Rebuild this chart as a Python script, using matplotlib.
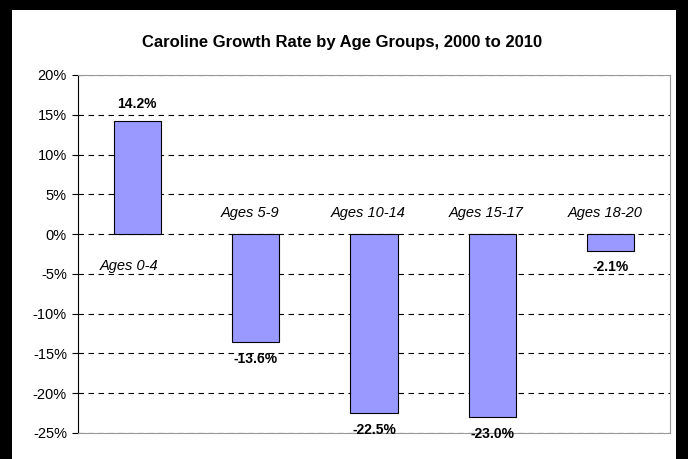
import matplotlib.pyplot as plt
from matplotlib.patches import Rectangle
from matplotlib.ticker import FuncFormatter

plt.rcParams['font.family'] = ['Liberation Sans', 'DejaVu Sans']

# Data
groups = ["Ages 0-4", "Ages 5-9", "Ages 10-14", "Ages 15-17", "Ages 18-20"]
growth = [14.2, -13.6, -22.5, -23.0, -2.1]

fig = plt.figure(figsize=(6.88, 4.59), dpi=100)
fig.patch.set_facecolor('black')
# white inner panel (black frame around it)
fig.patches.append(Rectangle((12/688, 0), 664/688, 449/459, transform=fig.transFigure,
                             facecolor='white', edgecolor='none', zorder=-10))

ax = fig.add_axes([78/688, 1 - 433/459, 592/688, 358/459])
ax.set_facecolor('white')

x = range(len(groups))
ax.bar(x, growth, width=0.4, color='#9999FF', edgecolor='black', linewidth=0.8, zorder=3)

ax.set_xlim(-0.5, len(groups) - 0.5)
ax.set_ylim(-25, 20)
ax.set_yticks(range(-25, 21, 5))
ax.yaxis.set_major_formatter(FuncFormatter(lambda v, p: f"{v:.0f}%"))
ax.set_xticks([])
ax.tick_params(axis='y', labelsize=10.5, length=4, pad=4, color='black')

ax.grid(axis='y', linestyle=(0, (5, 4)), color='black', linewidth=0.8, zorder=1)
for s in ['top', 'right', 'bottom']:
    ax.spines[s].set_color('#999999')
ax.spines['left'].set_color('black')

# labels
for i, (g, v) in enumerate(zip(groups, growth)):
    if v >= 0:
        ax.text(i, v + 1.3, f"{v:.1f}%", ha='center', va='bottom', fontsize=10, fontweight='bold')
        ax.text(i - 0.07, -4.0, g, ha='center', va='center', fontsize=10.5, style='italic')
    else:
        ax.text(i, v - 1.2, f"{v:.1f}%", ha='center', va='top', fontsize=10, fontweight='bold',
                zorder=5)
        ax.text(i - 0.05, 2.6, g, ha='center', va='center', fontsize=10.5, style='italic')

fig.text(342/688, 1 - 42/459, "Caroline Growth Rate by Age Groups, 2000 to 2010",
         ha='center', va='center', fontsize=12, fontweight='bold')

fig.savefig('out.png', dpi=100, facecolor=fig.get_facecolor())
